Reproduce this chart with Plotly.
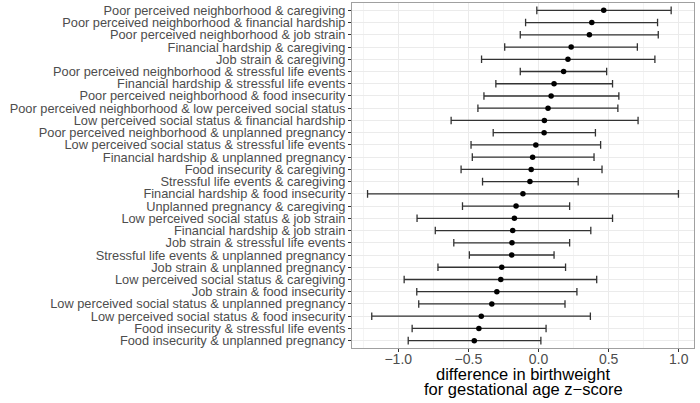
import plotly.graph_objects as go

labels = [
    "Poor perceived neighborhood & caregiving",
    "Poor perceived neighborhood & financial hardship",
    "Poor perceived neighborhood & job strain",
    "Financial hardship & caregiving",
    "Job strain & caregiving",
    "Poor perceived neighborhood & stressful life events",
    "Financial hardship & stressful life events",
    "Poor perceived neighborhood & food insecurity",
    "Poor perceived neighborhood & low perceived social status",
    "Low perceived social status & financial hardship",
    "Poor perceived neighborhood & unplanned pregnancy",
    "Low perceived social status & stressful life events",
    "Financial hardship & unplanned pregnancy",
    "Food insecurity & caregiving",
    "Stressful life events & caregiving",
    "Financial hardship & food insecurity",
    "Unplanned pregnancy & caregiving",
    "Low perceived social status & job strain",
    "Financial hardship & job strain",
    "Job strain & stressful life events",
    "Stressful life events & unplanned pregnancy",
    "Job strain & unplanned pregnancy",
    "Low perceived social status & caregiving",
    "Job strain & food insecurity",
    "Low perceived social status & unplanned pregnancy",
    "Low perceived social status & food insecurity",
    "Food insecurity & stressful life events",
    "Food insecurity & unplanned pregnancy",
]

estimate = [0.465, 0.380, 0.363, 0.233, 0.210, 0.179, 0.111, 0.090, 0.068, 0.042,
            0.040, -0.019, -0.042, -0.052, -0.061, -0.111, -0.160, -0.172, -0.184, -0.189,
            -0.191, -0.262, -0.269, -0.297, -0.333, -0.408, -0.425, -0.458]

lower = [-0.012, -0.092, -0.130, -0.241, -0.406, -0.130, -0.304, -0.389, -0.432, -0.623,
         -0.323, -0.481, -0.472, -0.552, -0.399, -1.219, -0.542, -0.866, -0.736, -0.604,
         -0.493, -0.717, -0.958, -0.868, -0.854, -1.189, -0.901, -0.929]

upper = [0.946, 0.849, 0.854, 0.705, 0.830, 0.486, 0.528, 0.573, 0.566, 0.710,
         0.406, 0.443, 0.396, 0.453, 0.283, 0.998, 0.222, 0.528, 0.373, 0.222,
         0.111, 0.193, 0.415, 0.274, 0.189, 0.370, 0.054, 0.017]

x_ticks = [-1.0, -0.5, 0.0, 0.5, 1.0]
title_lines = ["difference in birthweight", "for gestational age z\u2212score"]

FONT = "Liberation Sans, Arial, Helvetica, sans-serif"

err_plus = [u - e for u, e in zip(upper, estimate)]
err_minus = [e - l for e, l in zip(estimate, lower)]

fig = go.Figure()
fig.add_trace(go.Scatter(
    x=estimate, y=labels, mode="markers",
    marker=dict(color="black", size=5.5),
    error_x=dict(type="data", symmetric=False, array=err_plus, arrayminus=err_minus,
                 color="#333333", thickness=1.3, width=3.8),
    showlegend=False, hoverinfo="skip",
))

lo = min(lower)
hi = max(upper)
pad = 0.05 * (hi - lo)

fig.add_shape(type="line", xref="x", yref="paper", x0=0, x1=0, y0=0, y1=1,
              line=dict(color="black", width=1, dash="dot"), layer="below")

fig.update_layout(
    width=700, height=403,
    margin=dict(l=352, r=6, t=3, b=55, autoexpand=False),
    paper_bgcolor="white", plot_bgcolor="white",
    font=dict(family=FONT),
    xaxis=dict(
        automargin=False,
        range=[lo - pad, hi + pad],
        tickvals=x_ticks, tickformat=".1f",
        tickfont=dict(size=14, color="#4D4D4D"),
        ticks="outside", ticklen=3, tickcolor="#333333", tickwidth=1,
        ticklabelstandoff=-5,
        showgrid=True, gridcolor="#EBEBEB", gridwidth=1.1,
        minor=dict(dtick=0.25, tick0=0, showgrid=True, gridcolor="#F4F4F4", gridwidth=0.6),
        showline=True, linecolor="#A0A0A0", linewidth=1, mirror=True,
        zeroline=False,
    ),
    yaxis=dict(
        automargin=False,
        type="category", categoryorder="array", categoryarray=labels,
        tickmode="array", tickvals=labels, ticktext=labels,
        range=[len(labels) - 1 + 0.6, -0.6],
        tickfont=dict(size=12.8, color="#4D4D4D"),
        ticks="outside", ticklen=3, tickcolor="#333333", tickwidth=1,
        showgrid=True, gridcolor="#EBEBEB", gridwidth=1.1,
        showline=True, linecolor="#A0A0A0", linewidth=1, mirror=True,
        zeroline=False,
    ),
)

fig.add_annotation(text=title_lines[0], xref="paper", yref="paper", x=0.5, y=-0.0754,
                   xanchor="center", yanchor="middle", showarrow=False,
                   font=dict(size=16.5, color="black", family=FONT))
fig.add_annotation(text=title_lines[1], xref="paper", yref="paper", x=0.5, y=-0.119,
                   xanchor="center", yanchor="middle", showarrow=False,
                   font=dict(size=16.5, color="black", family=FONT))

fig.write_html("out.html", config={"displayModeBar": False},
               post_script="document.body.style.margin='0px';")
